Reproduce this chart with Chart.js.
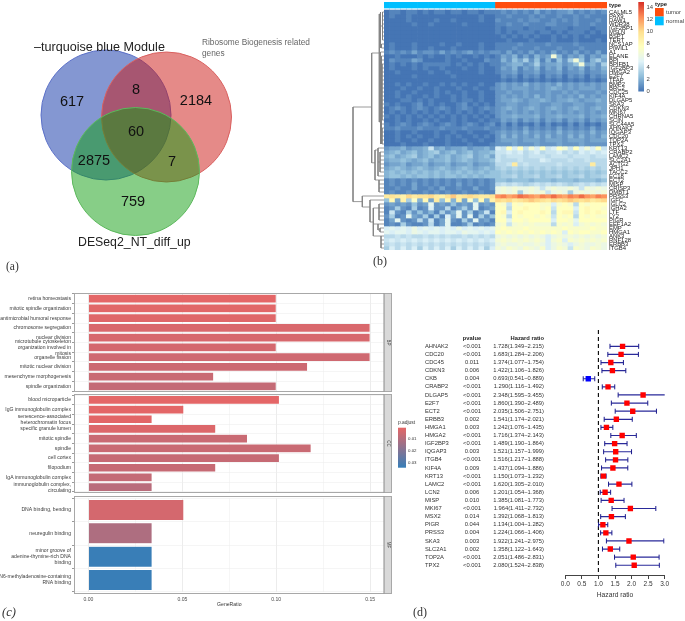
<!DOCTYPE html>
<html>
<head>
<meta charset="utf-8">
<script src="https://cdn.jsdelivr.net/npm/chart.js@4"></script>
<style>
body { margin: 0; background: #fff; width: 685px; height: 621px; position: relative; overflow: hidden; }
canvas { position: absolute; filter: blur(0.3px); }
#heatChart { filter: blur(0.5px); }
</style>
</head>
<body>
<canvas id="vennChart" width="340" height="280" style="left:0;top:0"></canvas>
<canvas id="dendroChart" width="39" height="252" style="left:345px;top:0"></canvas>
<canvas id="heatChart" width="340" height="270" style="left:345px;top:0"></canvas>
<canvas id="bpChart" width="420" height="99" style="left:0;top:293px"></canvas>
<canvas id="ccChart" width="420" height="99" style="left:0;top:394px"></canvas>
<canvas id="mfChart" width="420" height="125" style="left:0;top:496px"></canvas>
<canvas id="forestChart" width="277" height="296" style="left:408px;top:325px"></canvas>
<script>
const SANS = '"Liberation Sans"'
const SERIF = '"Liberation Serif"'

// (a) venn
const vennCounts = ['617', '8', '2184', '60', '2875', '7', '759']
const vennCountSpots = [[72, 102], [136, 90], [196, 101], [136, 132], [94, 161], [172, 162], [133, 202]]
const vennCircles = [
    { x: 106, y: 115, r: 65, fill: 'rgba(9,47,165,0.5)', line: '#5b70c8' },
    { x: 166.5, y: 117, r: 65, fill: 'rgba(203,21,17,0.5)', line: '#d9605f' },
    { x: 135.5, y: 171.5, r: 64, fill: 'rgba(15,157,15,0.5)', line: '#5cb85c' },
]

// (b) heatmap, 20 normal + 20 tumor columns, one char per cell = value * 2 in base 36
const heatGenes = ['CALML5', 'PAX9', 'DAW1', 'WDR38', 'IGF2BP1', 'MSLN', 'BSPT', 'TERT', 'NCS1AP', 'PIWIL1',
    'A1', 'ELANE', 'BPI', 'BPIFB1', 'IGF2BP3', 'HMGA2', 'E2F7', 'TFAP', 'BMP2', 'BRC2',
    'CDC25', 'KIF4A', 'DLGAP5', 'SKA3', 'CDKN3', 'MKI67', 'CHRNA5', 'SCIN', 'SLC44A5', 'AHNAK2',
    'IQGAP3', 'CDC20', 'TOP2A', 'TPX2', 'KRT13', 'CRABP2', 'LAMC2', 'SLC2A1', 'ACTG2', 'JPH1',
    'TACC2', 'EC18', 'ECT2', 'MISP', 'CRISP3', 'DMBT1', 'PRSS3', 'IGFC', 'IGLC2', 'IGHA2',
    'LTF', 'LY2', 'PIGR', 'EEF1A2', 'EMP', 'HMGA1', 'ANK3', 'RNF128', 'ERBB3', 'ITGB4']
const heatRows = [
    '01101101011011011011 12121213121223121212',
    '01001000000000000100 11211121211211212111',
    '00001000010010000100 21112122112121211121',
    '00000100100000100000 11211211122111211211',
    '00000000000000000000 10111011101110111011',
    '00000000000000000000 10101110110101110101',
    '00000000000000000000 01010101001010101000',
    '00000000000000000000 00100010001000100010',
    '01000100001001000100 11112111121111211111',
    '01000100100010000100 11121112111211121111',
    '12121312213121231212 21312131213121312131',
    '00100010100101001010 1324131423c413241324',
    '02111320000100100021 14253625141526c51463',
    '01010101111101010101 123442362334235c3426',
    '01000101001000100100 13241324132413241324',
    '00100000100100000100 12231223122312231223',
    '00000100000010000000 02120212021202120212',
    '00000000000000000000 01010101010101010101',
    '00101001001010100100 23232423232423232323',
    '00010010010001001001 23233323234323233323',
    '00100100010100100100 22322322232232322232',
    '00101001010010100100 23232324232323242323',
    '00011010100010110100 23343233432334323343',
    '10100120101001201010 22332233223322332233',
    '01210121012101210121 23432343234323432343',
    '01010101010101010101 23232323232323232323',
    '10101010101010101010 23343334233433342334',
    '00101001010010100101 13231323132313231323',
    '10121012101210121012 02020102020102020102',
    '11211121112111211121 12121312121312121312',
    '00100100010010010001 23232423232423232423',
    '00101010010101001010 24242324242324242324',
    '00100100100100100100 23332333233323332333',
    '00010001000100010001 22232223222322232222',
    '23342334834233423342 98e9e8c9e89ec8e9c9e8',
    '34534534563453453445 88989789788978798989',
    '45345634534534563453 87888788878887888788',
    '34454345344534543445 87778777987778778777',
    '23342334233423342334 778h7877777877777h77',
    '34543454345434543454 67676767676767676767',
    '45454545454545454545 56565656565656565656',
    '45545455454554545455 56675667566756675667',
    '12121212121212121212 55455545554555455545',
    '12121312121213121212 78787678787876787878',
    '11211311213112113112 bcbcbbcb8bcbbcb8cbcb',
    '12112112121211211211 bcbc6bcbc8bcb6bcbcbc',
    'hihgjhiijhgikhijihhi nomnponmonpnmonpnmon',
    '5f3g6d4f3h5f4g3d5f4g jijhijkjihjijkjijhij',
    '23232523a2325232a232 ed8edeeedd9ded7edeee',
    '1262161292271362a123 ee7eefeede8eee9efeed',
    '1821625241624a261381 ef9efeeefe7eff8efefe',
    '2612a32616193a2a1625 ed7edeeded8ede7ededd',
    '13a21272813a2162a231 eeaeedeeee9eedaeeeee',
    '12162112713a11261212 cd8cdcdccc7dcd9cdcdc',
    '9a9a9b9a9a9a9b9a9a9a dedddeddddddeddddedd',
    'a9aa9ba9aa9aa9baa9a9 edededededed9edeedde',
    '77878778787877878787 bcbcbcbcb9bcbcbcbcbc',
    '89898989898989898989 cdcdcdcdc9cd9dcdcdcd',
    '78787878787878787878 bcbbcbbcb9bcb9bcbbcb',
    '69797969797969797969 cbdcbdcbd9bdc8dcbdcb',
]
const heatTicks = [0, 2, 4, 6, 8, 10, 12, 14]
const heatStops = ['#4575b4', '#91bfdb', '#e0f3f8', '#ffffbf', '#fee090', '#fc8d59', '#d73027']
const typeColors = { normal: '#00bfff', tumor: '#ff4d0d' }

// dendrogram: how far each leaf stub reaches, then [height, row1, row2, parentHeight, parentRow]
const dendroLeaf = [1.5, 1.5, 1.5, 1.5, 1.5, 1.5, 1.5, 1.5, 2.5, 2.5,
    3.5, 2.5, 2.5, 2, 2, 2, 2, 2, 2, 2,
    2, 2, 2, 2, 2, 2, 2, 2, 2.5, 2,
    2, 2, 2, 2, 6, 4, 4, 4, 4, 4,
    4, 6, 5, 5, 5, 5, 21.7, 14, 5, 5,
    5, 5, 5, 6, 4, 4, 3, 3, 3, 3]
const dendroJoins = [
    [31, 24.25, 47.9],
    [12.3, 10.75, 38.2, 31, 24.25],
    [21.7, 46.5, 49.25, 31, 47.9],
    [4.7, 1, 28, 12.3, 10.75],
    [3.5, 0.5, 9.5, 4.7, 1],
    [1.5, 0.5, 7.5, 3.5, 4],
    [2.5, 8.5, 9.5, 3.5, 9],
    [3.5, 10.5, 33.5, 4.7, 28],
    [2.5, 11.5, 33.5, 3.5, 20],
    [2, 13.5, 27.5, 2.5, 18],
    [2, 29.5, 33.5, 2.5, 30],
    [9, 35, 42.5, 12.3, 38.2],
    [6, 34.5, 41.5, 9, 35],
    [4, 35.5, 40.5, 6, 38],
    [5, 42.5, 45.5, 9, 42.5],
    [14, 47.5, 53, 21.7, 49.25],
    [10.7, 49.5, 56.5, 14, 53],
    [5, 48.5, 52.5, 10.7, 49.5],
    [6, 53.5, 55, 10.7, 53.5],
    [4, 54.5, 55.5, 6, 55],
    [3, 56.5, 59.5, 10.7, 56.5],
]

// (c) enrichment bars
const bpTerms = ['retina homeostasis', 'mitotic spindle organization', 'antimicrobial humoral response', 'chromosome segregation', 'nuclear division',
    ['microtubule cytoskeleton', 'organization involved in', 'mitosis'], 'organelle fission', 'mitotic nuclear division', 'mesenchyme morphogenesis', 'spindle organization']
const bpRatio = [0.1, 0.1, 0.1, 0.15, 0.15, 0.1, 0.15, 0.1167, 0.0667, 0.1]
const bpAdjust = [0.001, 0.0015, 0.002, 0.003, 0.0035, 0.004, 0.005, 0.0055, 0.006, 0.007]
const ccTerms = ['blood microparticle', 'IgG immunoglobulin complex', ['senescence-associated', 'heterochromatin focus'], 'specific granule lumen', 'mitotic spindle',
    'spindle', 'cell cortex', 'filopodium', 'IgA immunoglobulin complex', ['immunoglobulin complex,', 'circulating']]
const ccRatio = [0.1017, 0.0508, 0.0339, 0.0678, 0.0847, 0.1186, 0.1017, 0.0678, 0.0339, 0.0339]
const ccAdjust = [0.001, 0.0012, 0.0013, 0.0025, 0.006, 0.006, 0.0065, 0.0065, 0.007, 0.009]
const mfTerms = ['DNA binding, bending', 'neuregulin binding', ['minor groove of', 'adenine-thymine-rich DNA', 'binding'], ['N6-methyladenosine-containing', 'RNA binding']]
const mfRatio = [0.0508, 0.0339, 0.0339, 0.0339]
const mfAdjust = [0.004, 0.011, 0.033, 0.033]
const ratioTicks = [0, 0.025, 0.05, 0.075, 0.1, 0.125, 0.15]
const adjustTicks = [0.01, 0.02, 0.03]

// (d) forest plot
const forestGenes = ['AHNAK2', 'CDC20', 'CDC45', 'CDKN3', 'CKB', 'CRABP2', 'DLGAP5', 'E2F7', 'ECT2', 'ERBB3', 'HMGA1', 'HMGA2', 'IGF2BP3', 'IQGAP3',
    'ITGB4', 'KIF4A', 'KRT13', 'LAMC2', 'LCN2', 'MISP', 'MKI67', 'MSX2', 'PIGR', 'PRSS3', 'SKA3', 'SLC2A1', 'TOP2A', 'TPX2']
const forestP = ['<0.001', '<0.001', '0.011', '0.006', '0.004', '<0.001', '<0.001', '<0.001', '<0.001', '0.002', '0.003', '<0.001', '<0.001', '0.003',
    '<0.001', '0.009', '<0.001', '<0.001', '0.006', '0.010', '<0.001', '0.014', '0.044', '0.004', '0.003', '0.002', '<0.001', '<0.001']
const forestHR = [1.728, 1.683, 1.374, 1.422, 0.693, 1.290, 2.348, 1.860, 2.035, 1.541, 1.242, 1.716, 1.489, 1.521,
    1.516, 1.437, 1.150, 1.620, 1.201, 1.385, 1.964, 1.392, 1.134, 1.224, 1.922, 1.358, 2.051, 2.080]
const forestLow = [1.349, 1.284, 1.077, 1.106, 0.541, 1.116, 1.595, 1.390, 1.506, 1.174, 1.076, 1.374, 1.190, 1.157,
    1.217, 1.094, 1.073, 1.305, 1.054, 1.081, 1.411, 1.068, 1.004, 1.066, 1.241, 1.122, 1.486, 1.524]
const forestHigh = [2.215, 2.206, 1.754, 1.826, 0.889, 1.492, 3.455, 2.489, 2.751, 2.021, 1.435, 2.143, 1.864, 1.999,
    1.888, 1.886, 1.232, 2.010, 1.368, 1.773, 2.732, 1.813, 1.282, 1.406, 2.975, 1.643, 2.831, 2.838]

function label(ctx, str, x, y, font, color = '#222', align = 'left') {
    ctx.save()
    ctx.font = font
    ctx.fillStyle = color
    ctx.textAlign = align
    ctx.textBaseline = 'middle'
    ctx.fillText(str, x, y)
    ctx.restore()
}

function hexToRgb(hex) {
    return [1, 3, 5].map(i => parseInt(hex.substr(i, 2), 16))
}

function heatColor(v) {
    const t = Math.min(v / 14, 1) * (heatStops.length - 1)
    const i = Math.min(Math.floor(t), heatStops.length - 2)
    const a = hexToRgb(heatStops[i])
    const b = hexToRgb(heatStops[i + 1])
    const c = a.map((n, k) => Math.round(n + (b[k] - n) * (t - i)))
    return `rgb(${c[0]},${c[1]},${c[2]})`
}

function adjustColor(p) {
    const t = Math.min(Math.max((p - 0.0008) / 0.0325, 0), 1)
    const c = [229 + (55 - 229) * t, 102 + (126 - 102) * t, 102 + (184 - 102) * t].map(Math.round)
    return `rgb(${c[0]},${c[1]},${c[2]})`
}

// ---- (a)
new Chart(document.getElementById('vennChart'), {
    type: 'bubble',
    data: {
        datasets: vennCircles.map((c, i) => ({
            data: [{ x: c.x, y: c.y, r: c.r }],
            backgroundColor: c.fill,
            borderColor: c.line,
            borderWidth: 1,
            order: 3 - i,
            clip: false,
        })),
    },
    options: {
        responsive: false,
        animation: false,
        layout: { padding: 0, autoPadding: false },
        plugins: { legend: { display: false }, tooltip: { enabled: false } },
        scales: {
            x: { display: false, min: 0, max: 340 },
            y: { display: false, min: 0, max: 280, reverse: true },
        },
    },
    plugins: [{
        id: 'vennText',
        afterDraw(chart) {
            const ctx = chart.ctx
            vennCounts.forEach((n, i) => {
                const x = chart.scales.x.getPixelForValue(vennCountSpots[i][0])
                const y = chart.scales.y.getPixelForValue(vennCountSpots[i][1])
                label(ctx, n, x, y, `14.5px ${SANS}`, '#111', 'center')
            })
            label(ctx, '–turquoise blue Module', 34, 48, `12.6px ${SANS}`, '#222')
            label(ctx, 'Ribosome Biogenesis related', 202, 43, `8.3px ${SANS}`, '#666')
            label(ctx, 'genes', 202, 54, `8.3px ${SANS}`, '#666')
            label(ctx, 'DESeq2_NT_diff_up', 78, 243, `12.3px ${SANS}`, '#222')
            label(ctx, '(a)', 6, 267, `11.5px ${SERIF}`, '#333')
        },
    }],
})

// ---- (b) dendrogram
const dendroPoints = []
dendroLeaf.forEach((h, i) => {
    dendroPoints.push({ x: 0, y: i + 2.5 }, { x: h, y: i + 2.5 }, { x: null, y: null })
})
dendroJoins.forEach(j => {
    dendroPoints.push({ x: j[0], y: j[1] + 2 }, { x: j[0], y: j[2] + 2 }, { x: null, y: null })
    if (j.length > 3) {
        dendroPoints.push({ x: j[0], y: j[4] + 2 }, { x: j[3], y: j[4] + 2 }, { x: null, y: null })
    }
})
new Chart(document.getElementById('dendroChart'), {
    type: 'scatter',
    data: {
        datasets: [{
            data: dendroPoints,
            showLine: true,
            spanGaps: false,
            borderColor: '#808080',
            borderWidth: 0.8,
            pointRadius: 0,
        }],
    },
    options: {
        responsive: false,
        animation: false,
        layout: { padding: { top: 2, bottom: 2 }, autoPadding: false },
        plugins: { legend: { display: false }, tooltip: { enabled: false } },
        scales: {
            x: { display: false, min: 0, max: 39, reverse: true },
            y: { display: false, min: 0, max: 62, reverse: true },
        },
    },
})

// ---- (b) heatmap, stacked bars of height 1
const heatCells = heatRows.map(r => r.replace(' ', '').split('').map(ch => parseInt(ch, 36) / 2))
const heatColumns = heatCells[0].map((v, i) => i)
const heatDatasets = [
    {
        data: heatColumns.map(() => 1.5),
        backgroundColor: heatColumns.map(i => i < 20 ? typeColors.normal : typeColors.tumor),
    },
    { data: heatColumns.map(() => 0.5), backgroundColor: 'rgba(0,0,0,0)' },
].concat(heatCells.map(row => ({
    data: row.map(() => 1),
    backgroundColor: row.map(heatColor),
})))
const heatTickNames = ['type'].concat(heatGenes)
new Chart(document.getElementById('heatChart'), {
    type: 'bar',
    data: { labels: heatColumns, datasets: heatDatasets },
    options: {
        responsive: false,
        animation: false,
        layout: { padding: { left: 39, top: 2, bottom: 20 }, autoPadding: false },
        datasets: { bar: { barPercentage: 1, categoryPercentage: 1 } },
        plugins: { legend: { display: false }, tooltip: { enabled: false } },
        scales: {
            x: { display: false, stacked: true },
            y: {
                position: 'right',
                stacked: true,
                reverse: true,
                min: 0,
                max: 62,
                grid: { display: false, drawTicks: false },
                border: { display: false },
                afterBuildTicks(axis) {
                    axis.ticks = [{ value: 0.75 }].concat(heatGenes.map((g, i) => ({ value: i + 2.5 })))
                },
                afterFit(axis) {
                    axis.width = 78
                    axis.paddingTop = 0
                    axis.paddingBottom = 0
                },
                ticks: {
                    autoSkip: false,
                    padding: 2,
                    color: '#222',
                    font: c => ({ family: SANS, size: 5.9, weight: c.index === 0 ? 'bold' : 'normal' }),
                    callback: (v, i) => heatTickNames[i],
                },
            },
        },
    },
    plugins: [{
        id: 'heatLegend',
        afterDraw(chart) {
            const ctx = chart.ctx
            const grad = ctx.createLinearGradient(0, 91.3, 0, 2)
            heatStops.forEach((c, i) => grad.addColorStop(i / (heatStops.length - 1), c))
            ctx.fillStyle = grad
            ctx.fillRect(293.3, 2, 5.7, 89.5)
            heatTicks.forEach(t => label(ctx, String(t), 301.5, 91.3 - t * 6, `5.9px ${SANS}`, '#444'))
            label(ctx, 'type', 310, 4, `bold 5.9px ${SANS}`, '#222')
            ctx.fillStyle = typeColors.tumor
            ctx.fillRect(310, 8, 8.7, 8.5)
            ctx.fillStyle = typeColors.normal
            ctx.fillRect(310, 16.5, 8.7, 8.8)
            label(ctx, 'tumor', 321, 12.3, `5.9px ${SANS}`, '#444')
            label(ctx, 'normal', 321, 21, `5.9px ${SANS}`, '#444')
            label(ctx, '(b)', 28, 262, `12px ${SERIF}`, '#333')
        },
    }],
})

// ---- (c) one chart per facet
function facetChart(id, terms, ratio, adjust, strip, padTop, bottomSize, extra) {
    const canvas = document.getElementById(id)
    const panelBottom = id === 'mfChart' ? 98 : 99
    return new Chart(canvas, {
        type: 'bar',
        data: {
            labels: terms,
            datasets: [{
                data: ratio,
                backgroundColor: adjust.map(adjustColor),
                borderColor: 'rgba(255,255,255,0.25)',
                borderWidth: 0.5,
                barPercentage: 0.9,
                categoryPercentage: 1,
            }],
        },
        options: {
            responsive: false,
            animation: false,
            indexAxis: 'y',
            layout: { padding: { top: padTop, right: 36, bottom: 0 }, autoPadding: false },
            plugins: { legend: { display: false }, tooltip: { enabled: false } },
            scales: {
                x: {
                    min: -0.0077,
                    max: 0.1574,
                    afterBuildTicks(axis) { axis.ticks = ratioTicks.map(value => ({ value })) },
                    afterFit(axis) {
                        axis.height = bottomSize
                        axis.paddingLeft = 0
                        axis.paddingRight = 0
                    },
                    grid: {
                        drawTicks: false,
                        color: c => [0.025, 0.075, 0.125].includes(c.tick.value) ? '#f6f6f6' : '#ececec',
                    },
                    border: { display: false },
                    ticks: {
                        display: id === 'mfChart',
                        autoSkip: false,
                        maxRotation: 0,
                        padding: 5,
                        color: '#4d4d4d',
                        font: { family: SANS, size: 5.1 },
                        callback: v => [0, 0.05, 0.1, 0.15].includes(v) ? v.toFixed(2) : '',
                    },
                },
                y: {
                    afterFit(axis) {
                        axis.width = 74
                        axis.paddingTop = 0
                        axis.paddingBottom = 0
                    },
                    grid: { color: '#efefef', lineWidth: 0.6, tickLength: 2, tickColor: '#555' },
                    border: { display: false },
                    ticks: {
                        autoSkip: false,
                        padding: 1,
                        color: '#3a3a3a',
                        font: { family: SANS, size: 5.1, lineHeight: 1.18 },
                    },
                },
            },
        },
        plugins: [{
            id: 'facetFrame',
            afterDraw(chart) {
                const ctx = chart.ctx
                ctx.fillStyle = '#d9d9d9'
                ctx.fillRect(384, 0.5, 7.5, panelBottom - 1)
                ctx.strokeStyle = '#a8a8a8'
                ctx.lineWidth = 1
                ctx.strokeRect(74.5, 0.5, 317, panelBottom - 1)
                ctx.strokeStyle = '#8a8a8a'
                ctx.beginPath()
                ctx.moveTo(384, 0.5)
                ctx.lineTo(384, panelBottom - 0.5)
                ctx.stroke()
                ctx.save()
                ctx.translate(388, panelBottom / 2)
                ctx.rotate(Math.PI / 2)
                label(ctx, strip, 0, 0, `4.5px ${SANS}`, '#444', 'center')
                ctx.restore()
                if (extra) extra(ctx)
            },
        }],
    })
}

facetChart('bpChart', bpTerms, bpRatio, bpAdjust, 'BP', 0.85, 0.85)
facetChart('ccChart', ccTerms, ccRatio, ccAdjust, 'CC', 1, 1, ctx => {
    const grad = ctx.createLinearGradient(0, 33.7, 0, 73.7)
    grad.addColorStop(0, adjustColor(0.0008))
    grad.addColorStop(1, adjustColor(0.0333))
    ctx.fillStyle = grad
    ctx.fillRect(398, 33.7, 8, 40)
    label(ctx, 'p.adjust', 398, 29, `4.9px ${SANS}`, '#333')
    adjustTicks.forEach((t, i) => label(ctx, t.toFixed(2), 408, 45 + i * 12, `4.4px ${SANS}`, '#333'))
})
facetChart('mfChart', mfTerms, mfRatio, mfAdjust, 'MF', 2.3, 29.3, ctx => {
    label(ctx, 'GeneRatio', 229.3, 109, `5.1px ${SANS}`, '#333', 'center')
    label(ctx, '(c)', 2, 117, `italic 12.5px ${SERIF}`, '#333')
})

// ---- (d)
const intervalPoints = []
forestGenes.forEach((g, i) => {
    intervalPoints.push({ x: forestLow[i], y: i }, { x: forestHigh[i], y: i }, { x: null, y: null })
})
new Chart(document.getElementById('forestChart'), {
    type: 'scatter',
    data: {
        datasets: [
            {
                data: forestHR.map((v, i) => ({ x: v, y: i })),
                pointStyle: 'rect',
                pointRadius: 3.8,
                backgroundColor: forestHR.map(v => v < 1 ? '#0000ff' : '#ff0000'),
                borderWidth: 0,
            },
            {
                data: intervalPoints,
                showLine: true,
                spanGaps: false,
                borderColor: '#2a2a9a',
                borderWidth: 1.2,
                pointStyle: 'line',
                rotation: 90,
                pointRadius: 2.5,
                pointBorderColor: '#1a1a8c',
                pointBorderWidth: 1,
            },
            {
                data: [{ x: 1, y: -2 }, { x: 1, y: 28.2 }],
                showLine: true,
                borderColor: '#111',
                borderWidth: 1.2,
                borderDash: [4, 3],
                pointRadius: 0,
            },
        ],
    },
    options: {
        responsive: false,
        animation: false,
        layout: { padding: { left: 157.3, right: 20.3, top: 5.1, bottom: 19 }, autoPadding: false },
        plugins: { legend: { display: false }, tooltip: { enabled: false } },
        scales: {
            x: {
                min: 0,
                max: 3,
                afterFit(axis) { axis.height = 27 },
                grid: { drawOnChartArea: false, tickLength: 4, tickColor: '#444' },
                border: { color: '#444' },
                ticks: {
                    stepSize: 0.5,
                    padding: 1,
                    maxRotation: 0,
                    color: '#333',
                    font: { family: SANS, size: 6.5 },
                    callback: v => v.toFixed(1),
                },
                title: {
                    display: true,
                    text: 'Hazard ratio',
                    color: '#333',
                    font: { family: SANS, size: 6.7 },
                    padding: { top: 0, bottom: 3 },
                },
            },
            y: { display: false, min: -2, max: 28.2, reverse: true },
        },
    },
    plugins: [{
        id: 'forestTable',
        afterDraw(chart) {
            const ctx = chart.ctx
            const y = chart.scales.y
            const font = `5.8px ${SANS}`
            label(ctx, 'pvalue', 64, 13, `bold 5.8px ${SANS}`, '#222', 'center')
            label(ctx, 'Hazard ratio', 136, 13.5, `bold 5.8px ${SANS}`, '#222', 'right')
            forestGenes.forEach((g, i) => {
                const py = y.getPixelForValue(i)
                const hr = `${forestHR[i].toFixed(3)}(${forestLow[i].toFixed(3)}−${forestHigh[i].toFixed(3)})`
                label(ctx, g, 17, py, font, '#333')
                label(ctx, forestP[i], 64, py, font, '#333', 'center')
                label(ctx, hr, 136, py, font, '#333', 'right')
            })
            label(ctx, '(d)', 5, 288, `12px ${SERIF}`, '#333')
        },
    }],
})
</script>
</body>
</html>
